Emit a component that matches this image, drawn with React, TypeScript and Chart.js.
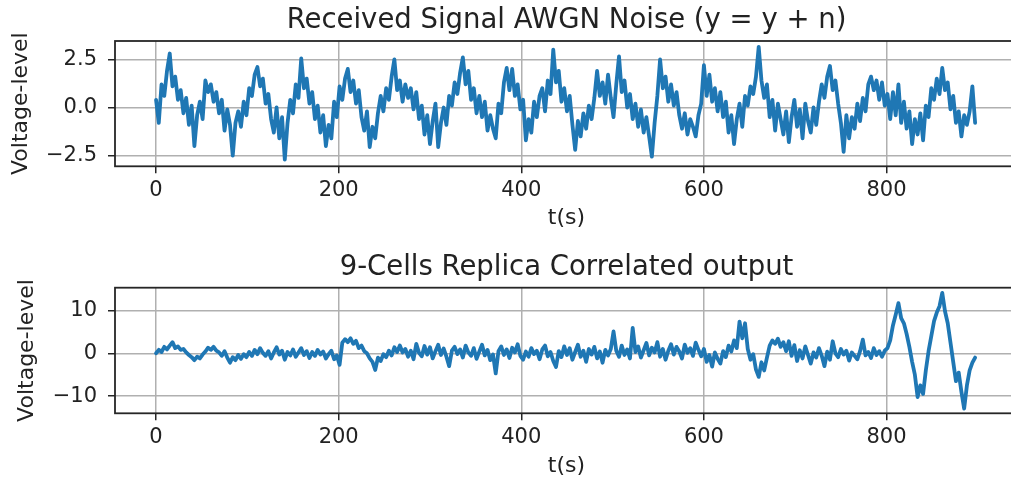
import React, { useEffect, useRef } from "react";
import { Chart, registerables } from "chart.js";

Chart.register(...registerables);

const FONT = "DejaVu Sans";
const TEXT_COLOR = "#222222";
const LINE_COLOR = "#1f77b4";

const SAMPLE_STEP = 3;
const X_TICKS = [0, 200, 400, 600, 800];
const TOP_Y_TICKS = [-2.5, 0, 2.5];
const BOTTOM_Y_TICKS = [-10, 0, 10];
const TOP_TITLE = "Received Signal AWGN Noise (y = y + n)";
const BOTTOM_TITLE = "9-Cells Replica Correlated output";
const X_LABEL = "t(s)";
const Y_LABEL = "Voltage-level";

const receivedSignal = [
  0.4, -0.8, 1.2, 0.6, 1.9, 2.8, 1.1, 1.6, 0.4, 0.9,
  -0.3, 0.5, -0.9, 0.1, -2.0, -0.4, 0.3, -0.6, 1.4, 0.8,
  1.2, 0.3, 0.8, -0.3, 0.4, -1.2, -0.1, -0.9, -2.5, -0.8,
  -0.2, -1.0, 0.3, -0.4, 1.0, 0.6, 1.7, 2.1, 1.1, 1.5,
  0.2, 0.7, -0.6, -1.3, 0.0, -1.6, -0.5, -2.7, -0.8, 0.4,
  -0.3, 1.2, 0.5, 2.55, 1.0, 1.5, 0.2, 0.8, -0.6, 0.1,
  -1.3, -0.4, -2.0, -0.9, -1.6, 0.3, -0.5, 1.1, 0.4, 1.5,
  2.0, 0.8, 1.4, 0.2, 0.9, -0.5, -1.2, -0.2, -2.05, -1.0,
  -1.6, -0.3, 0.6, -0.2, 1.0, 0.4, 1.6, 2.5, 0.9, 1.4,
  0.3, 1.2, 0.5, 1.0, -0.1, 0.8, -0.6, 0.1, -1.4, -0.4,
  -1.9, -0.7, 0.2, -2.05, -0.8, 0.0, -0.9, 0.6, 0.1, 1.3,
  0.7, 1.8, 2.6, 1.2, 1.9, 0.4, 1.0, -0.3, 0.6, -0.5,
  0.3, -1.2, -0.4, -1.1, -1.6, 0.2, -0.3, 1.3, 2.05, 0.9,
  2.0, 0.6, 1.2, -0.1, 0.4, -1.7, -0.6, -1.3, 0.3, -0.5,
  0.6, 1.0, -0.2, 1.4, 0.7, 3.0, 1.3, 1.9, 0.3, 1.0,
  -0.2, 0.6, -0.9, -2.2, -0.7, -1.5, -0.3, -1.1, 0.1, -0.6,
  0.5, 1.9, 0.6, 1.3, 0.2, 1.7, 0.5, -0.5, 1.2, 2.65,
  0.8, 1.4, 0.0, 0.7, -0.6, 0.2, -1.0, -0.1, -1.3, -0.5,
  -1.5, -2.55, -0.8, 0.6, 2.5, 1.0, 1.6, 0.3, 1.2, 0.1,
  0.8, -0.4, -1.1, -0.3, -1.4, -0.6, -1.0, -1.5, -0.4, 0.2,
  2.2, 0.6, 1.7, 0.3, 1.0, -0.2, 0.8, -0.5, 0.3, -1.3,
  -0.4, -1.9, -0.6, 0.2, -1.0, 0.6, 0.1, 1.1, 0.7, 1.6,
  3.15, 1.4, 0.5, 1.2, -0.5, 0.4, -1.2, 0.2, -0.6, -1.4,
  -0.2, -1.8, -0.5, 0.4, -1.0, -0.1, -1.6, 0.2, -0.7, -1.3,
  0.0, -0.9, 0.3, 1.2, 0.5, 1.6, 2.15, 0.9, 1.4, 0.2,
  -0.8, -2.3, -0.4, -1.6, -0.5, -1.1, 0.2, -0.7, 0.5, -0.2,
  1.2, 1.6, 0.9, 1.4, 0.4, 1.3, 0.1, 0.7, -0.6, 0.8,
  -0.4, 1.2, -0.8, 0.3, -1.1, -0.2, -1.9, -0.6, -1.4, -0.3,
  -1.7, 0.1, -0.5, 1.0, 0.4, 1.5, 0.7, 2.05, 0.9, 1.3,
  -0.1, 0.6, -0.8, -0.2, -1.5, -0.4, -0.9, -0.2, 1.1, -0.8,
];

const correlatedOutput = [
  0.0, 0.8, 0.3, 1.5, 0.9, 1.8, 2.6, 1.2, 1.6, 0.8,
  1.0, 0.2, -0.4, -0.9, -1.6, -0.8, -1.2, -0.3, 0.4, 1.3,
  0.8, 1.5, 0.6, 0.2, -0.6, 0.5, -1.0, -2.2, -0.9, -1.6,
  -0.4, -1.3, -0.2, -0.9, 0.3, -0.6, 0.8, -0.2, 1.2, 0.1,
  -0.6, 0.5, -1.2, 0.2, 1.4, -0.3, 0.6, -1.5, 0.3, -0.5,
  0.9, -0.8, 0.2, 1.2, -0.4, 0.5, -1.1, 0.3, -0.6, 0.8,
  -0.3, 0.4, -1.2, -0.2, 0.6, -1.4, -0.5, -2.7, 2.5, 3.3,
  2.6, 3.5, 2.2, 2.9, 1.2, 1.8, 0.5, 0.0, -1.2, -2.0,
  -3.9, -1.0, -1.8, -0.2, -0.9, 0.6, -0.5, 1.4, 0.3, 1.8,
  0.2, 1.0, -0.8, 0.6, -1.4, 2.2, 0.1, -0.7, 1.7, -0.3,
  1.4, -1.2, 0.5, 2.0, -0.4, 1.1, -0.8, -3.0, 0.6, 1.5,
  -0.2, 0.9, -1.0, 1.8, 0.2, -0.6, 1.2, -1.3, 0.4, 2.0,
  -0.5, 0.8, -1.6, -0.3, -4.7, 0.5, 1.6, -0.4, 0.9, -1.1,
  1.3, 0.2, 2.1, -0.6, -1.5, 0.4, -0.8, 1.2, -0.2, 0.6,
  -1.4, 0.9, 1.8, -0.7, 0.3, -1.8, -3.2, 0.5, -0.9, 1.6,
  -0.4, 1.2, -1.5, 0.3, 2.0, -0.8, 0.6, -2.0, 1.0, -0.3,
  1.5, -1.2, 0.4, -2.2, 0.8, -0.5, 1.0, 5.1, 0.6, -0.8,
  1.8, -0.4, 0.9, -1.2, 5.9, 0.3, 1.6, -1.0, 0.7, 2.4,
  -0.5, 1.3, 0.2, 2.6, -0.8, 1.0, -1.5, 0.6, 2.1, -0.3,
  1.5, 0.4, -1.2, 2.0, 0.1, 1.2, -0.6, 2.5, 0.8, -0.7,
  1.0, -2.0, -0.4, -3.1, 0.2, -1.3, -2.4, 0.5, -0.9, 1.8,
  0.4, 3.0, 1.2, 7.4, 3.5, 7.0, 1.0, -1.5, -0.2, -3.8,
  -5.5, -2.1, -4.0, -1.0, 1.8, 3.0, 2.2, 3.4, 1.5, 2.6,
  0.5, 2.8, -0.6, 1.9, -1.8, 0.7, -1.2, 1.6, -0.4, -2.4,
  0.2, -1.0, 1.2, -0.6, -3.0, 0.4, -1.5, 2.8, 0.0, -0.9,
  1.0, -0.3, 0.6, -1.7, 0.2, -0.6, -1.4, 0.5, 3.2, -0.5,
  0.3, -1.1, 1.2, -0.4, 0.5, -0.8, 0.6, 1.2, 3.0, 6.5,
  9.0, 11.7, 8.2, 7.0, 4.5, 1.5, -2.0, -5.0, -10.2, -7.5,
  -9.5, -4.0, 0.5, 4.0, 7.5, 9.5, 11.0, 14.1, 9.8, 7.0,
  2.5, -2.0, -6.5, -4.5, -9.0, -12.9, -7.5, -4.0, -2.2, -1.0,
];

const framePlugin = {
  id: "axesFrame",
  afterDatasetsDraw(chart: any) {
    const { ctx, chartArea: a } = chart;
    ctx.save();
    ctx.strokeStyle = "#262626";
    ctx.lineWidth = 1.8;
    ctx.strokeRect(a.left, a.top, a.right - a.left, a.bottom - a.top);
    ctx.restore();
  },
};

function fmt(v: number, decimals: number) {
  const s = Math.abs(v).toFixed(decimals);
  return v < 0 ? "\u2212" + s : s;
}

type PanelProps = {
  top: number;
  height: number;
  title: string;
  titlePad: { top: number; bottom: number };
  values: number[];
  yMin: number;
  yMax: number;
  yTicks: number[];
  decimals: number;
  xAxisHeight: number;
  xTitleBottom: number;
  yTitlePad: number;
};

function Panel(p: PanelProps) {
  const ref = useRef<HTMLCanvasElement | null>(null);
  useEffect(() => {
    if (!ref.current) return;
    const points = p.values.map((v, i) => ({ x: i * SAMPLE_STEP, y: v }));
    const grid = {
      color: "#b0b0b0",
      lineWidth: 1.5,
      tickLength: 7,
      tickColor: "#262626",
      tickWidth: 1.5,
      drawTicks: true,
    };
    const chart = new Chart(ref.current, {
      type: "line",
      data: {
        datasets: [
          {
            data: points,
            borderColor: LINE_COLOR,
            backgroundColor: LINE_COLOR,
            borderWidth: 3.8,
            pointRadius: 0,
            tension: 0,
            fill: false,
            borderJoinStyle: "round",
            borderCapStyle: "round",
          },
        ],
      },
      options: {
        animation: false,
        responsive: true,
        maintainAspectRatio: false,
        events: [],
        layout: { padding: { left: 0, right: 115, top: 0, bottom: 0 } },
        plugins: {
          legend: { display: false },
          tooltip: { enabled: false },
          title: {
            display: true,
            fullSize: false,
            text: p.title,
            color: TEXT_COLOR,
            font: { family: FONT, size: 27.5, weight: "normal" },
            padding: p.titlePad,
          },
        },
        scales: {
          x: {
            type: "linear",
            min: -44.95,
            max: 943.95,
            afterBuildTicks: (s: any) => {
              s.ticks = X_TICKS.map((v) => ({ value: v }));
            },
            afterFit: (s: any) => {
              s.height = p.xAxisHeight;
            },
            ticks: {
              font: { family: FONT, size: 21 },
              color: TEXT_COLOR,
              padding: 5,
              maxRotation: 0,
              autoSkip: false,
              callback: (v: any) => String(v),
            },
            grid,
            border: { display: false },
            title: {
              display: true,
              text: X_LABEL,
              color: TEXT_COLOR,
              font: { family: FONT, size: 22 },
              padding: { top: 0, bottom: p.xTitleBottom },
            },
          },
          y: {
            type: "linear",
            min: p.yMin,
            max: p.yMax,
            afterBuildTicks: (s: any) => {
              s.ticks = p.yTicks.map((v) => ({ value: v }));
            },
            afterFit: (s: any) => {
              s.width = 115;
            },
            ticks: {
              font: { family: FONT, size: 21 },
              color: TEXT_COLOR,
              padding: 11,
              autoSkip: false,
              callback: (v: any) => fmt(Number(v), p.decimals),
            },
            grid,
            border: { display: false },
            title: {
              display: true,
              text: Y_LABEL,
              color: TEXT_COLOR,
              font: { family: FONT, size: 22 },
              padding: { top: p.yTitlePad, bottom: 0 },
            },
          },
        },
      } as any,
      plugins: [framePlugin],
    });
    return () => chart.destroy();
  }, []);
  return (
    <div
      style={{
        position: "absolute",
        left: 0,
        top: p.top,
        width: 1133,
        height: p.height,
      }}
    >
      <canvas ref={ref} />
    </div>
  );
}

export default function App() {
  return (
    <div
      style={{
        position: "fixed",
        left: 0,
        top: 0,
        width: 1011,
        height: 483,
        overflow: "hidden",
        background: "#ffffff",
      }}
    >
      <Panel
        top={0}
        height={241}
        title={TOP_TITLE}
        titlePad={{ top: 4.4, bottom: 3.6 }}
        values={receivedSignal}
        yMin={-3.05}
        yMax={3.45}
        yTicks={TOP_Y_TICKS}
        decimals={1}
        xAxisHeight={74.7}
        xTitleBottom={10}
        yTitlePad={8.5}
      />
      <Panel
        top={241}
        height={242}
        title={BOTTOM_TITLE}
        titlePad={{ top: 10.4, bottom: 3.3 }}
        values={correlatedOutput}
        yMin={-14.0}
        yMax={15.3}
        yTicks={BOTTOM_Y_TICKS}
        decimals={0}
        xAxisHeight={69.7}
        xTitleBottom={3.8}
        yTitlePad={14.3}
      />
    </div>
  );
}
